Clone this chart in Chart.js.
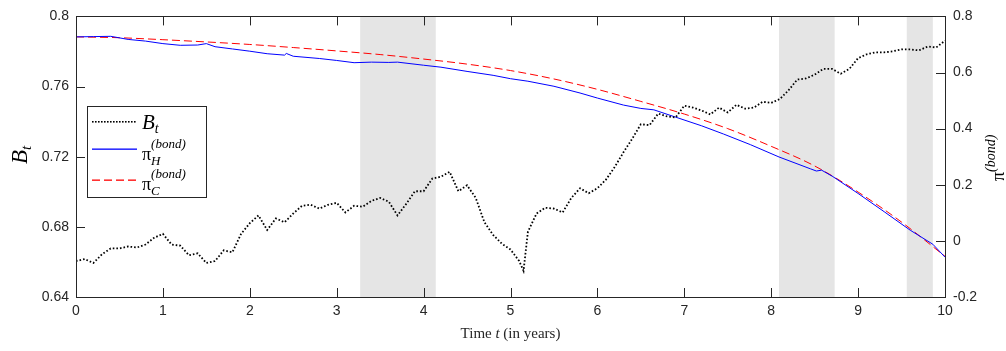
<!DOCTYPE html>
<html lang="en">
<head>
    <meta charset="UTF-8">
    <title>Bond price and bond allocation</title>
    <style>
        html, body { margin: 0; padding: 0; background: #fff; }
        #wrap { width: 1006px; height: 351px; }
    </style>
</head>
<body>
    <div id="wrap"><canvas id="chart"></canvas></div>
    <script src="https://cdn.jsdelivr.net/npm/chart.js"></script>
    <script>
        // B_t (left axis)
        const tB = [0, 0.1, 0.2, 0.3, 0.4, 0.5, 0.6, 0.7, 0.8, 0.9,
            1.0, 1.1, 1.2, 1.3, 1.4, 1.5, 1.6, 1.7, 1.8, 1.9,
            2.0, 2.1, 2.2, 2.3, 2.4, 2.5, 2.6, 2.7, 2.8, 2.9,
            3.0, 3.1, 3.2, 3.3, 3.4, 3.5, 3.6, 3.7, 3.8, 3.9,
            4.0, 4.1, 4.2, 4.3, 4.4, 4.5, 4.6, 4.7, 4.8, 4.9,
            5.0, 5.1, 5.15, 5.2, 5.3, 5.4, 5.5, 5.6, 5.7, 5.8, 5.9,
            6.0, 6.1, 6.2, 6.3, 6.4, 6.5, 6.6, 6.7, 6.8, 6.9,
            7.0, 7.1, 7.2, 7.3, 7.4, 7.5, 7.6, 7.7, 7.8, 7.9,
            8.0, 8.1, 8.2, 8.3, 8.4, 8.5, 8.6, 8.7, 8.8, 8.9,
            9.0, 9.1, 9.2, 9.3, 9.4, 9.5, 9.6, 9.7, 9.8, 9.9, 10.0];
        const bondPrice = [0.6605, 0.6616, 0.6594, 0.6644, 0.6677, 0.6677, 0.6688, 0.6682, 0.6699, 0.6738,
            0.6760, 0.6699, 0.6693, 0.6638, 0.6649, 0.6594, 0.6605, 0.6666, 0.6655, 0.6760,
            0.6821, 0.6865, 0.6782, 0.6848, 0.6826, 0.6876, 0.6920, 0.6926, 0.6904, 0.6926,
            0.6937, 0.6882, 0.6920, 0.6915, 0.6948, 0.6965, 0.6943, 0.6865, 0.6931, 0.7003,
            0.7003, 0.7075, 0.7086, 0.7114, 0.7003, 0.7037, 0.6965, 0.6826, 0.6754, 0.6704,
            0.6671, 0.6605, 0.6549, 0.6771, 0.6876, 0.6909, 0.6904, 0.6882, 0.6965, 0.7020, 0.6992,
            0.7020, 0.7070, 0.7142, 0.7225, 0.7302, 0.7385, 0.7380, 0.7446, 0.7430, 0.7424,
            0.7491, 0.7480, 0.7463, 0.7441, 0.7480, 0.7452, 0.7496, 0.7474, 0.7480, 0.7513,
            0.7507, 0.7529, 0.7579, 0.7640, 0.7646, 0.7668, 0.7701, 0.7701, 0.7673, 0.7701,
            0.7762, 0.7784, 0.7795, 0.7795, 0.7801, 0.7812, 0.7812, 0.7806, 0.7828, 0.7823, 0.7862];

        // pi_H (right axis)
        const tH = [0, 0.2, 0.4, 0.6, 0.8, 1.0, 1.2, 1.4, 1.5, 1.6, 1.8, 2.0, 2.2, 2.4, 2.42, 2.5,
            2.8, 3.0, 3.2, 3.4, 3.6, 3.7, 4.0, 4.2, 4.5, 4.8, 5.0, 5.2, 5.5, 5.8, 6.0, 6.3, 6.5,
            6.65, 6.9, 7.2, 7.45, 7.76, 8.09, 8.45, 8.52, 8.58, 8.71, 9.0, 9.3, 9.6, 9.86, 10.0];
        const piH = [0.727, 0.728, 0.729, 0.718, 0.712, 0.703, 0.697, 0.698, 0.703, 0.692, 0.684, 0.676, 0.667, 0.662, 0.668, 0.658,
            0.650, 0.643, 0.635, 0.637, 0.636, 0.637, 0.626, 0.619, 0.604, 0.590, 0.578, 0.569, 0.551, 0.527, 0.509, 0.484, 0.472,
            0.467, 0.441, 0.410, 0.381, 0.343, 0.299, 0.257, 0.249, 0.252, 0.229, 0.169, 0.104, 0.038, -0.012, -0.058];

        // pi_C (right axis)
        const tC = [0, 0.5, 1, 1.5, 2, 2.5, 3, 3.5, 4, 4.5, 5, 5.5, 6, 6.5, 7, 7.5, 8, 8.5, 9, 9.5, 10];
        const piC = [0.727, 0.724, 0.717, 0.709, 0.700, 0.689, 0.677, 0.664, 0.648, 0.630, 0.607,
            0.577, 0.540, 0.497, 0.452, 0.400, 0.337, 0.267, 0.174, 0.067, -0.055];

        // shaded periods
        const shadeStart = [3.27, 8.09, 9.56];
        const shadeEnd = [4.14, 8.73, 9.86];

        const xTicks = [0, 1, 2, 3, 4, 5, 6, 7, 8, 9, 10];
        const leftTicks = [0.64, 0.68, 0.72, 0.76, 0.8];
        const rightTicks = [-0.2, 0, 0.2, 0.4, 0.6, 0.8];

        const axisColor = '#262626';
        const sansFont = '"Liberation Sans", Arial, Helvetica, sans-serif';
        const serifFont = '"Liberation Serif", "Times New Roman", serif';

        function pairs(xs, ys) {
            return xs.map((x, i) => ({ x: x, y: ys[i] }));
        }

        // draw a list of text pieces [text, font, dy]
        function drawPieces(ctx, x, y, pieces) {
            let cx = x;
            pieces.forEach(p => {
                ctx.font = p[1];
                ctx.fillText(p[0], cx, y + (p[2] || 0));
                cx += ctx.measureText(p[0]).width;
            });
            return cx - x;
        }

        const decor = {
            id: 'decor',
            beforeDatasetsDraw(chart) {
                const ctx = chart.ctx;
                const a = chart.chartArea;
                const xs = chart.scales.x;
                ctx.save();
                ctx.fillStyle = '#e5e5e5';
                shadeStart.forEach((s, i) => {
                    const x0 = xs.getPixelForValue(s);
                    const x1 = xs.getPixelForValue(shadeEnd[i]);
                    ctx.fillRect(x0, a.top, x1 - x0, a.bottom - a.top);
                });
                ctx.restore();
            },
            afterDraw(chart) {
                const ctx = chart.ctx;
                const a = chart.chartArea;
                const xs = chart.scales.x, yl = chart.scales.yL, yr = chart.scales.yR;
                const tl = 9;
                ctx.save();
                ctx.strokeStyle = axisColor;
                ctx.lineWidth = 1;
                ctx.beginPath();
                xTicks.forEach(v => {
                    const px = Math.round(xs.getPixelForValue(v)) + 0.5;
                    ctx.moveTo(px, a.bottom); ctx.lineTo(px, a.bottom - tl);
                    ctx.moveTo(px, a.top); ctx.lineTo(px, a.top + tl);
                });
                leftTicks.forEach(v => {
                    const py = Math.round(yl.getPixelForValue(v)) + 0.5;
                    ctx.moveTo(a.left, py); ctx.lineTo(a.left + tl, py);
                });
                rightTicks.forEach(v => {
                    const py = Math.round(yr.getPixelForValue(v)) + 0.5;
                    ctx.moveTo(a.right, py); ctx.lineTo(a.right - tl, py);
                });
                ctx.stroke();
                ctx.strokeRect(Math.round(a.left) + 0.5, Math.round(a.top) + 0.5,
                    Math.round(a.right - a.left), Math.round(a.bottom - a.top));

                // x axis title
                ctx.fillStyle = axisColor;
                ctx.textBaseline = 'alphabetic';
                const p1 = 'Time ', p2 = 't', p3 = ' (in years)';
                ctx.font = '15px ' + serifFont;
                const w1 = ctx.measureText(p1).width, w3 = ctx.measureText(p3).width;
                ctx.font = 'italic 15px ' + serifFont;
                const w2 = ctx.measureText(p2).width;
                const cx = (a.left + a.right) / 2;
                drawPieces(ctx, cx - (w1 + w2 + w3) / 2, 338, [
                    [p1, '15px ' + serifFont], [p2, 'italic 15px ' + serifFont], [p3, '15px ' + serifFont]
                ]);

                // left title B_t
                ctx.save();
                ctx.translate(27, 152);
                ctx.rotate(-Math.PI / 2);
                ctx.fillStyle = '#000';
                drawPieces(ctx, -12, 0, [['B', 'italic 23px ' + serifFont], ['t', 'italic 15px ' + serifFont, 4]]);
                ctx.restore();

                // right title pi^(bond)
                ctx.save();
                ctx.translate(1004, 181);
                ctx.rotate(-Math.PI / 2);
                ctx.fillStyle = '#000';
                drawPieces(ctx, 0, 0, [['π', '18px ' + serifFont], ['(bond)', 'italic 14px ' + serifFont, -9]]);
                ctx.restore();

                // legend
                const bx = 87.5, by = 106.5, bw = 119, bh = 91;
                ctx.fillStyle = '#fff';
                ctx.fillRect(bx, by, bw, bh);
                ctx.strokeStyle = axisColor;
                ctx.lineWidth = 1;
                ctx.setLineDash([]);
                ctx.strokeRect(bx, by, bw, bh);
                // dotted black sample
                ctx.fillStyle = '#000000';
                for (let x = 92; x < 137; x += 3) ctx.fillRect(x, 121, 1.6, 1.6);
                // solid blue sample
                ctx.fillStyle = '#0000ff';
                ctx.fillRect(92, 148.5, 45, 1.3);
                // dashed red sample
                ctx.fillStyle = '#ff0000';
                for (let x = 92; x < 137; x += 12) ctx.fillRect(x, 179.5, Math.min(8, 137 - x), 1.3);

                ctx.fillStyle = '#000';
                drawPieces(ctx, 142, 129, [['B', 'italic 21px ' + serifFont], ['t', 'italic 14px ' + serifFont, 4]]);
                ctx.font = '18px ' + serifFont;
                const piW = ctx.measureText('π').width;
                ctx.fillText('π', 142, 160);
                ctx.font = 'italic 13px ' + serifFont;
                ctx.fillText('H', 142 + piW, 165);
                ctx.fillText('(bond)', 142 + piW, 148);
                ctx.font = '18px ' + serifFont;
                ctx.fillText('π', 142, 190);
                ctx.font = 'italic 13px ' + serifFont;
                ctx.fillText('C', 142 + piW, 195);
                ctx.fillText('(bond)', 142 + piW, 178);
                ctx.restore();
            }
        };

        const tickFont = { family: sansFont, size: 14 };

        new Chart(document.getElementById('chart'), {
            type: 'scatter',
            data: {
                datasets: [
                    {
                        label: 'B_t',
                        data: pairs(tB, bondPrice),
                        yAxisID: 'yL',
                        showLine: true,
                        borderColor: '#000',
                        borderWidth: 1.8,
                        borderDash: [1.6, 2],
                        pointRadius: 0,
                        tension: 0
                    },
                    {
                        label: 'pi_H',
                        data: pairs(tH, piH),
                        yAxisID: 'yR',
                        showLine: true,
                        borderColor: '#0000ff',
                        borderWidth: 1,
                        pointRadius: 0,
                        tension: 0
                    },
                    {
                        label: 'pi_C',
                        data: pairs(tC, piC),
                        yAxisID: 'yR',
                        showLine: true,
                        borderColor: '#ff0000',
                        borderWidth: 1,
                        borderDash: [8, 4],
                        pointRadius: 0,
                        cubicInterpolationMode: 'monotone'
                    }
                ]
            },
            options: {
                responsive: true,
                maintainAspectRatio: false,
                animation: false,
                layout: { padding: { top: 8, left: 0, right: 0, bottom: 0 } },
                plugins: {
                    legend: { display: false },
                    tooltip: { enabled: false }
                },
                scales: {
                    x: {
                        type: 'linear',
                        min: 0,
                        max: 10,
                        afterFit(s) { s.height = 54; },
                        afterBuildTicks(s) { s.ticks = xTicks.map(v => ({ value: v })); },
                        grid: { drawOnChartArea: false, drawTicks: false },
                        border: { display: false },
                        ticks: { color: axisColor, font: tickFont, padding: 6, maxRotation: 0 }
                    },
                    yL: {
                        type: 'linear',
                        position: 'left',
                        min: 0.64,
                        max: 0.8,
                        afterFit(s) { s.width = 76; },
                        afterBuildTicks(s) { s.ticks = leftTicks.map(v => ({ value: v })); },
                        grid: { drawOnChartArea: false, drawTicks: false },
                        border: { display: false },
                        ticks: {
                            color: axisColor, font: tickFont, padding: 7,
                            callback: v => String(Number(v.toFixed(2)))
                        }
                    },
                    yR: {
                        type: 'linear',
                        position: 'right',
                        min: -0.2,
                        max: 0.8,
                        afterFit(s) { s.width = 61; },
                        afterBuildTicks(s) { s.ticks = rightTicks.map(v => ({ value: v })); },
                        grid: { drawOnChartArea: false, drawTicks: false },
                        border: { display: false },
                        ticks: {
                            color: axisColor, font: tickFont, padding: 8,
                            callback: v => String(Number(v.toFixed(1)))
                        }
                    }
                }
            },
            plugins: [decor]
        });
    </script>
</body>
</html>
